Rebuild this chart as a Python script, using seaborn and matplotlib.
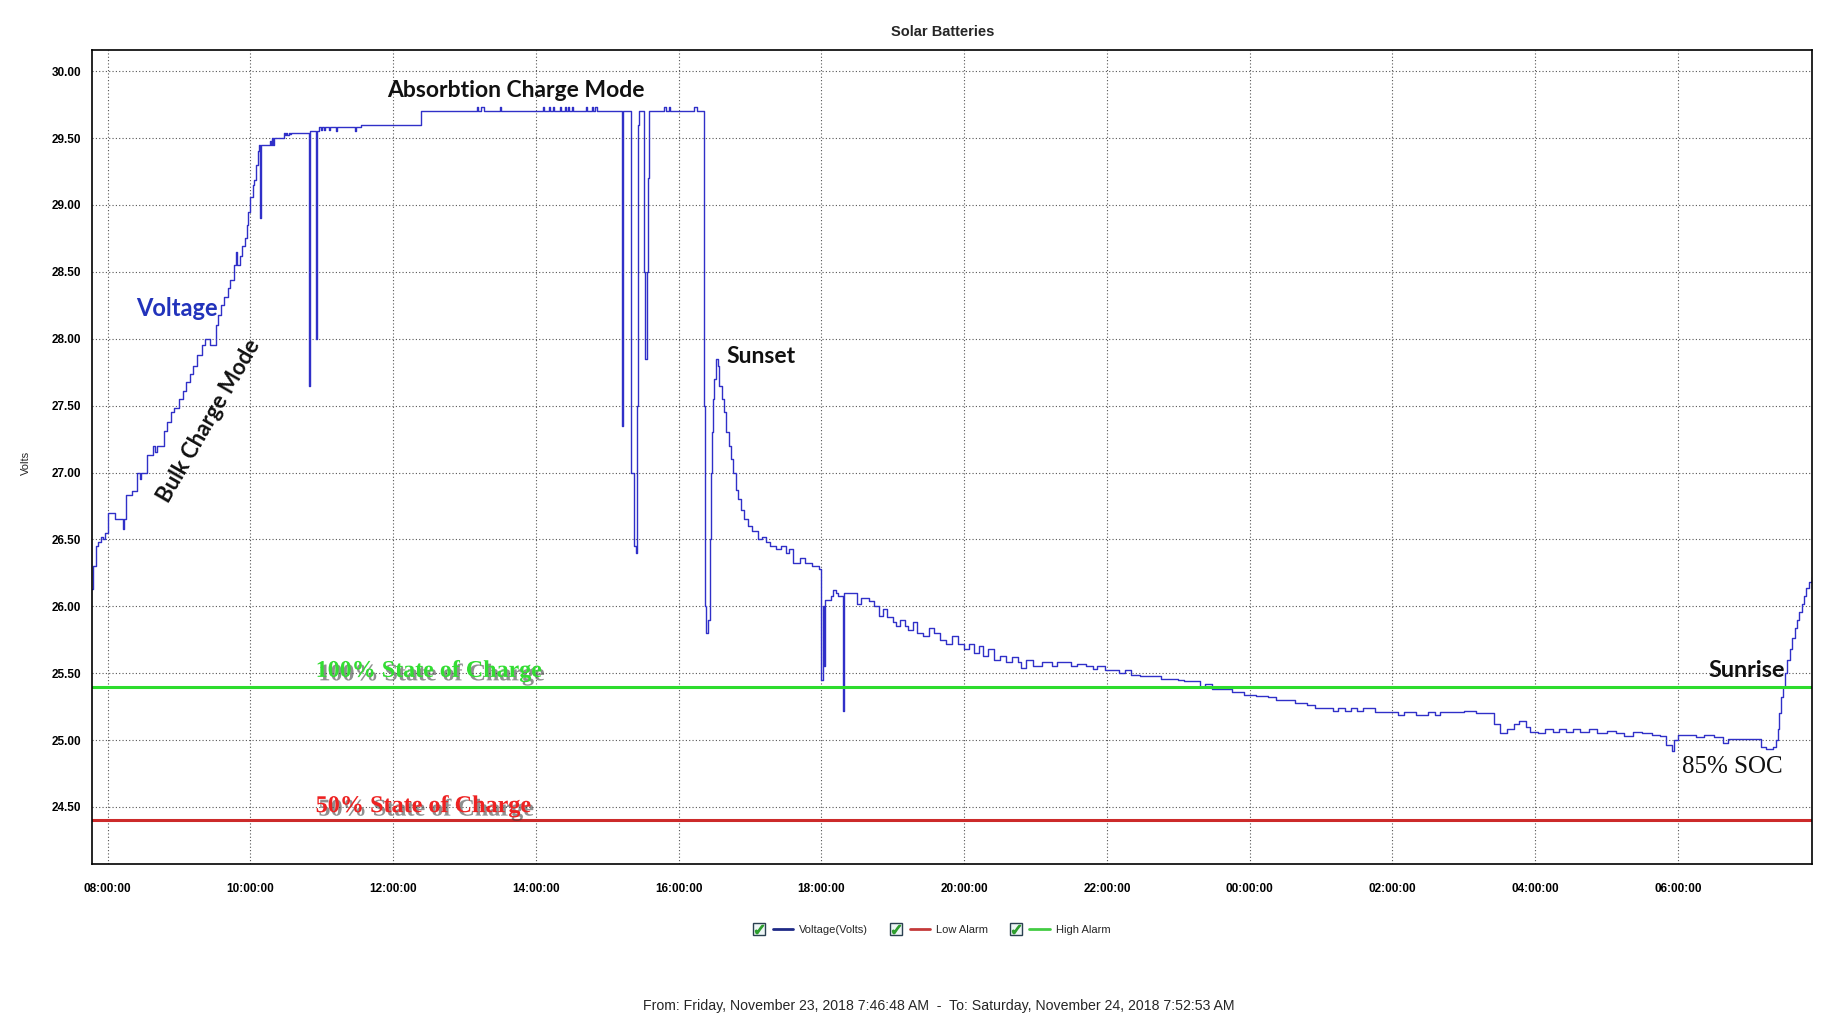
import matplotlib
matplotlib.use("Agg")
import matplotlib.pyplot as plt
import matplotlib.dates as mdates
import matplotlib.patheffects as pe
from matplotlib.lines import Line2D
from matplotlib.legend_handler import HandlerTuple
import seaborn as sns
import pandas as pd

# ---------------- data ----------------
times = [
    "11-23 07:46:48", "11-23 07:48", "11-23 07:50", "11-23 07:52", "11-23 07:54", "11-23 07:56", "11-23 07:58",
    "11-23 08:00", "11-23 08:06", "11-23 08:13", "11-23 08:14", "11-23 08:15", "11-23 08:20", "11-23 08:25",
    "11-23 08:27", "11-23 08:28", "11-23 08:33", "11-23 08:38", "11-23 08:40", "11-23 08:41", "11-23 08:47",
    "11-23 08:50", "11-23 08:53", "11-23 08:56", "11-23 09:00", "11-23 09:03", "11-23 09:06", "11-23 09:09",
    "11-23 09:12", "11-23 09:15", "11-23 09:19", "11-23 09:22", "11-23 09:26", "11-23 09:31", "11-23 09:33",
    "11-23 09:35", "11-23 09:38", "11-23 09:41", "11-23 09:43", "11-23 09:46", "11-23 09:48", "11-23 09:49",
    "11-23 09:51", "11-23 09:53", "11-23 09:55", "11-23 09:57", "11-23 09:58", "11-23 10:00", "11-23 10:02",
    "11-23 10:03", "11-23 10:05", "11-23 10:06", "11-23 10:07", "11-23 10:08", "11-23 10:09", "11-23 10:15",
    "11-23 10:16", "11-23 10:17", "11-23 10:18", "11-23 10:19", "11-23 10:20", "11-23 10:27", "11-23 10:28",
    "11-23 10:29", "11-23 10:30", "11-23 10:31", "11-23 10:32", "11-23 10:33", "11-23 10:34", "11-23 10:48",
    "11-23 10:49", "11-23 10:50", "11-23 10:55", "11-23 10:56", "11-23 10:58", "11-23 10:59", "11-23 11:00",
    "11-23 11:02", "11-23 11:03", "11-23 11:06", "11-23 11:07", "11-23 11:12", "11-23 11:13", "11-23 11:28",
    "11-23 11:29", "11-23 11:33", "11-23 12:23",
    "11-23 13:10", "11-23 13:11", "11-23 13:14", "11-23 13:16", "11-23 13:30", "11-23 13:31",
    "11-23 14:06", "11-23 14:07", "11-23 14:11", "11-23 14:12", "11-23 14:14", "11-23 14:15",
    "11-23 14:20", "11-23 14:21", "11-23 14:24", "11-23 14:25", "11-23 14:27", "11-23 14:28",
    "11-23 14:30", "11-23 14:31", "11-23 14:42", "11-23 14:43", "11-23 14:47", "11-23 14:48",
    "11-23 14:50", "11-23 14:51",
    "11-23 15:12", "11-23 15:13", "11-23 15:20", "11-23 15:22", "11-23 15:24", "11-23 15:25", "11-23 15:26",
    "11-23 15:27", "11-23 15:31", "11-23 15:32", "11-23 15:33", "11-23 15:34", "11-23 15:35",
    "11-23 15:48", "11-23 15:49", "11-23 15:52", "11-23 15:53", "11-23 16:13", "11-23 16:15",
    "11-23 16:21", "11-23 16:22", "11-23 16:23", "11-23 16:25", "11-23 16:26", "11-23 16:27", "11-23 16:28",
    "11-23 16:29", "11-23 16:30", "11-23 16:31", "11-23 16:33", "11-23 16:34", "11-23 16:36", "11-23 16:38",
    "11-23 16:40", "11-23 16:42", "11-23 16:44", "11-23 16:46", "11-23 16:48", "11-23 16:50", "11-23 16:52",
    "11-23 16:55", "11-23 16:58", "11-23 17:02", "11-23 17:07", "11-23 17:10", "11-23 17:13", "11-23 17:17",
    "11-23 17:22", "11-23 17:26", "11-23 17:30", "11-23 17:33", "11-23 17:36", "11-23 17:42", "11-23 17:46",
    "11-23 17:52", "11-23 17:58", "11-23 18:00", "11-23 18:01", "11-23 18:02", "11-23 18:03", "11-23 18:05",
    "11-23 18:08", "11-23 18:10", "11-23 18:12", "11-23 18:14", "11-23 18:18", "11-23 18:19", "11-23 18:25",
    "11-23 18:30", "11-23 18:33", "11-23 18:38", "11-23 18:40", "11-23 18:44", "11-23 18:48", "11-23 18:52",
    "11-23 18:55", "11-23 19:00", "11-23 19:03", "11-23 19:06", "11-23 19:10", "11-23 19:13", "11-23 19:17",
    "11-23 19:20", "11-23 19:25", "11-23 19:30", "11-23 19:35", "11-23 19:40", "11-23 19:45", "11-23 19:50",
    "11-23 19:55", "11-23 20:00", "11-23 20:04", "11-23 20:08", "11-23 20:12", "11-23 20:16", "11-23 20:20",
    "11-23 20:25", "11-23 20:30", "11-23 20:35", "11-23 20:40", "11-23 20:45", "11-23 20:48", "11-23 20:52",
    "11-23 20:58", "11-23 21:05", "11-23 21:14", "11-23 21:18", "11-23 21:30", "11-23 21:35", "11-23 21:42",
    "11-23 21:48", "11-23 21:52", "11-23 21:58", "11-23 22:10", "11-23 22:15", "11-23 22:20", "11-23 22:28",
    "11-23 22:45", "11-23 23:00", "11-23 23:05", "11-23 23:18", "11-23 23:22", "11-23 23:28", "11-23 23:45",
    "11-23 23:55", "11-24 00:05", "11-24 00:15", "11-24 00:22", "11-24 00:38", "11-24 00:48", "11-24 00:55",
    "11-24 01:10", "11-24 01:14", "11-24 01:20", "11-24 01:25", "11-24 01:30", "11-24 01:35", "11-24 01:45",
    "11-24 02:05", "11-24 02:10", "11-24 02:20", "11-24 02:30", "11-24 02:36", "11-24 02:40", "11-24 03:00",
    "11-24 03:10", "11-24 03:25", "11-24 03:30", "11-24 03:36", "11-24 03:42", "11-24 03:46", "11-24 03:52",
    "11-24 03:56", "11-24 04:02", "11-24 04:08", "11-24 04:15", "11-24 04:20", "11-24 04:26", "11-24 04:32",
    "11-24 04:38", "11-24 04:45", "11-24 04:52", "11-24 05:00", "11-24 05:08", "11-24 05:15", "11-24 05:22",
    "11-24 05:30", "11-24 05:38", "11-24 05:45", "11-24 05:50", "11-24 05:55", "11-24 05:57", "11-24 06:00",
    "11-24 06:15", "11-24 06:22", "11-24 06:30", "11-24 06:38", "11-24 06:42", "11-24 07:10", "11-24 07:14",
    "11-24 07:20", "11-24 07:22", "11-24 07:24", "11-24 07:25", "11-24 07:27", "11-24 07:28", "11-24 07:30",
    "11-24 07:32", "11-24 07:34", "11-24 07:36", "11-24 07:38", "11-24 07:40", "11-24 07:42", "11-24 07:44",
    "11-24 07:46", "11-24 07:48", "11-24 07:50", "11-24 07:52:53",
]
volts = [
    26.13, 26.30, 26.45, 26.48, 26.52, 26.50, 26.55,
    26.70, 26.65, 26.58, 26.65, 26.83, 26.86, 27.00,
    26.95, 27.00, 27.13, 27.20, 27.15, 27.20, 27.31,
    27.38, 27.45, 27.48, 27.55, 27.61, 27.68, 27.74,
    27.80, 27.88, 27.95, 28.00, 27.95, 28.10, 28.18,
    28.25, 28.31, 28.38, 28.44, 28.55, 28.65, 28.55,
    28.62, 28.69, 28.75, 28.85, 28.95, 29.06, 29.15,
    29.19, 29.30, 29.40, 29.45, 28.90, 29.45, 29.45,
    29.48, 29.45, 29.50, 29.45, 29.50, 29.50, 29.54,
    29.52, 29.54, 29.52, 29.54, 29.53, 29.54, 29.54,
    27.65, 29.55, 28.00, 29.55, 29.58, 29.56, 29.58,
    29.56, 29.58, 29.56, 29.58, 29.55, 29.58, 29.55,
    29.58, 29.60, 29.70,
    29.73, 29.70, 29.73, 29.70, 29.73, 29.70,
    29.73, 29.70, 29.73, 29.70, 29.73, 29.70,
    29.73, 29.70, 29.73, 29.70, 29.73, 29.70,
    29.73, 29.70, 29.73, 29.70, 29.73, 29.70,
    29.73, 29.70,
    27.35, 29.70, 27.00, 26.45, 26.40, 27.50, 29.60,
    29.70, 28.50, 27.85, 28.50, 29.20, 29.70,
    29.73, 29.70, 29.73, 29.70, 29.73, 29.70,
    27.50, 26.00, 25.80, 25.90, 26.50, 27.00, 27.30,
    27.55, 27.70, 27.85, 27.80, 27.65, 27.55, 27.45,
    27.30, 27.20, 27.10, 27.00, 26.87, 26.80, 26.72,
    26.65, 26.60, 26.56, 26.50, 26.52, 26.48, 26.45,
    26.43, 26.45, 26.40, 26.43, 26.32, 26.36, 26.32,
    26.30, 26.28, 25.45, 26.00, 25.55, 26.05, 26.05,
    26.08, 26.12, 26.10, 26.08, 25.22, 26.10, 26.10,
    26.02, 26.06, 26.06, 26.04, 26.00, 25.93, 25.98,
    25.92, 25.88, 25.85, 25.90, 25.85, 25.82, 25.88,
    25.80, 25.78, 25.84, 25.80, 25.75, 25.72, 25.78,
    25.72, 25.68, 25.72, 25.65, 25.70, 25.63, 25.68,
    25.60, 25.63, 25.58, 25.62, 25.58, 25.54, 25.60,
    25.55, 25.58, 25.55, 25.58, 25.55, 25.57, 25.55,
    25.53, 25.55, 25.52, 25.50, 25.52, 25.49, 25.48,
    25.46, 25.45, 25.44, 25.40, 25.42, 25.38, 25.36,
    25.34, 25.33, 25.32, 25.30, 25.28, 25.26, 25.24,
    25.22, 25.24, 25.22, 25.24, 25.22, 25.24, 25.21,
    25.19, 25.21, 25.19, 25.21, 25.19, 25.21, 25.22,
    25.20, 25.12, 25.05, 25.08, 25.12, 25.14, 25.10,
    25.06, 25.05, 25.08, 25.06, 25.08, 25.06, 25.08,
    25.06, 25.08, 25.05, 25.07, 25.05, 25.03, 25.06,
    25.05, 25.04, 25.03, 24.96, 24.92, 25.00, 25.04,
    25.02, 25.04, 25.02, 24.98, 25.01, 24.95, 24.93,
    24.95, 25.00, 25.08, 25.20, 25.32, 25.40, 25.50,
    25.60, 25.68, 25.76, 25.84, 25.90, 25.96, 26.02,
    26.08, 26.14, 26.18, 26.22,
]
low_alarm = 24.4
high_alarm = 25.4
y_ticks = [24.5, 25.0, 25.5, 26.0, 26.5, 27.0, 27.5, 28.0, 28.5, 29.0, 29.5, 30.0]
period_start = "2018-11-23 07:46:48"
period_end = "2018-11-24 07:52:53"

n = min(len(times), len(volts))
df = pd.DataFrame({"time": pd.to_datetime(["2018-" + t for t in times[:n]], format="mixed"),
                   "volts": volts[:n]})

# ---------------- style ----------------
sns.set_style("white")
plt.rcParams["font.family"] = ["Liberation Sans", "DejaVu Sans"]

fig = plt.figure(figsize=(18.3, 10.17), dpi=100)
ax = fig.add_axes([0.0503, 0.150, 0.940, 0.801])

sns.lineplot(data=df, x="time", y="volts", ax=ax, color="#3030c8", linewidth=1.0,
             drawstyle="steps-post", estimator=None, sort=False, legend=False)
ax.axhline(high_alarm, color="#2ddc2d", linewidth=2.2)
ax.axhline(low_alarm, color="#cc2a2a", linewidth=2.2)

t0, t1 = pd.Timestamp(period_start), pd.Timestamp(period_end)
ax.set_xlim(t0, t1)
ax.set_ylim(24.07, 30.16)
ax.set_yticks(y_ticks)
ax.yaxis.set_major_formatter(matplotlib.ticker.FormatStrFormatter("%.2f"))
ax.xaxis.set_major_locator(mdates.HourLocator(byhour=range(0, 24, 2)))
ax.xaxis.set_major_formatter(mdates.DateFormatter("%H:%M:%S"))
ax.grid(True, color="#555555", linestyle=(0, (1, 2)), linewidth=0.8)
ax.set_axisbelow(True)
for s in ax.spines.values():
    s.set_color("black")
    s.set_linewidth(1.2)
ax.tick_params(axis="y", direction="out", length=5, width=1, pad=3,
               labelsize=8.5, colors="black")
ax.tick_params(axis="x", direction="in", length=6, width=1, pad=13,
               labelsize=8.5, colors="black")
for lab in ax.get_xticklabels() + ax.get_yticklabels():
    lab.set_fontweight("bold")
    lab.set_fontstretch("condensed")
ax.set_xlabel("")
ax.set_ylabel("")

fig.text(0.515, 0.969, "Solar Batteries", ha="center", va="center",
         fontsize=10.5, fontweight="bold")
fig.text(0.014, 0.545, "Volts", ha="center", va="center", rotation=90, fontsize=8)
fig.text(0.513, 0.011, "From: Friday, November 23, 2018 7:46:48 AM  -  To: Saturday, November 24, 2018 7:52:53 AM",
         ha="center", va="center", fontsize=10.2)

# ---------------- annotations ----------------
ann_font = ["Lato", "DejaVu Sans"]
serif = ["Liberation Serif", "DejaVu Serif"]
ax.text(0.2465, 0.950, "Absorbtion Charge Mode", transform=ax.transAxes, ha="center", va="center",
        fontsize=16.5, fontweight="bold", family=ann_font, color="#111111")
ax.text(0.0495, 0.682, "Voltage", transform=ax.transAxes, ha="center", va="center",
        fontsize=17, fontweight="bold", family=ann_font, color="#2233bb")
ax.text(0.068, 0.545, "Bulk Charge Mode", transform=ax.transAxes, ha="center", va="center",
        rotation=60, rotation_mode="anchor", fontsize=16, fontweight="bold", family=ann_font, color="#111111")
ax.text(0.369, 0.623, "Sunset", transform=ax.transAxes, ha="left", va="center",
        fontsize=16.5, fontweight="bold", family=ann_font, color="#111111")
ax.text(0.9395, 0.238, "Sunrise", transform=ax.transAxes, ha="left", va="center",
        fontsize=16.8, fontweight="bold", family=ann_font, color="#111111")
ax.text(0.924, 0.120, "85% SOC", transform=ax.transAxes, ha="left", va="center",
        fontsize=18, family=serif, color="#111111")
shadow = [pe.withSimplePatchShadow(offset=(2, -2.5), shadow_rgbFace="#333333", alpha=0.55)]
ax.text(0.130, 0.237, "100% State of Charge", transform=ax.transAxes, ha="left", va="center",
        fontsize=17.3, fontweight="bold", family=serif, color="#33dd33",
        path_effects=shadow)
ax.text(0.130, 0.071, "50% State of Charge", transform=ax.transAxes, ha="left", va="center",
        fontsize=17.4, fontweight="bold", family=serif, color="#ee2222",
        path_effects=shadow)

# ---------------- legend ----------------
handler_map = {}

def entry(color):
    box = Line2D([], [], marker="s", markersize=8, markerfacecolor="#eef6f6",
                 markeredgecolor="#2a4050", markeredgewidth=1, linestyle="None")
    chk = Line2D([], [], marker="$\u2713$", markersize=6, color="#2e9e2e", linestyle="None")
    ln = Line2D([], [], color=color, linewidth=2)
    inner = (box, chk)
    handler_map[inner] = HandlerTuple(ndivide=1)
    return (inner, ln)

handles = [entry("#1f2a86"), entry("#c43a3a"), entry("#44cc44")]
labels = ["Voltage(Volts)", "Low Alarm", "High Alarm"]
handler_map[tuple] = HandlerTuple(ndivide=None, pad=0.3)
leg = fig.legend(handles, labels, loc="center", bbox_to_anchor=(0.508, 0.0856), ncol=3,
                 frameon=False, fontsize=8, handlelength=4.0, handletextpad=0.5, columnspacing=1.6,
                 handler_map=handler_map)

fig.savefig("out.png", dpi=100)
